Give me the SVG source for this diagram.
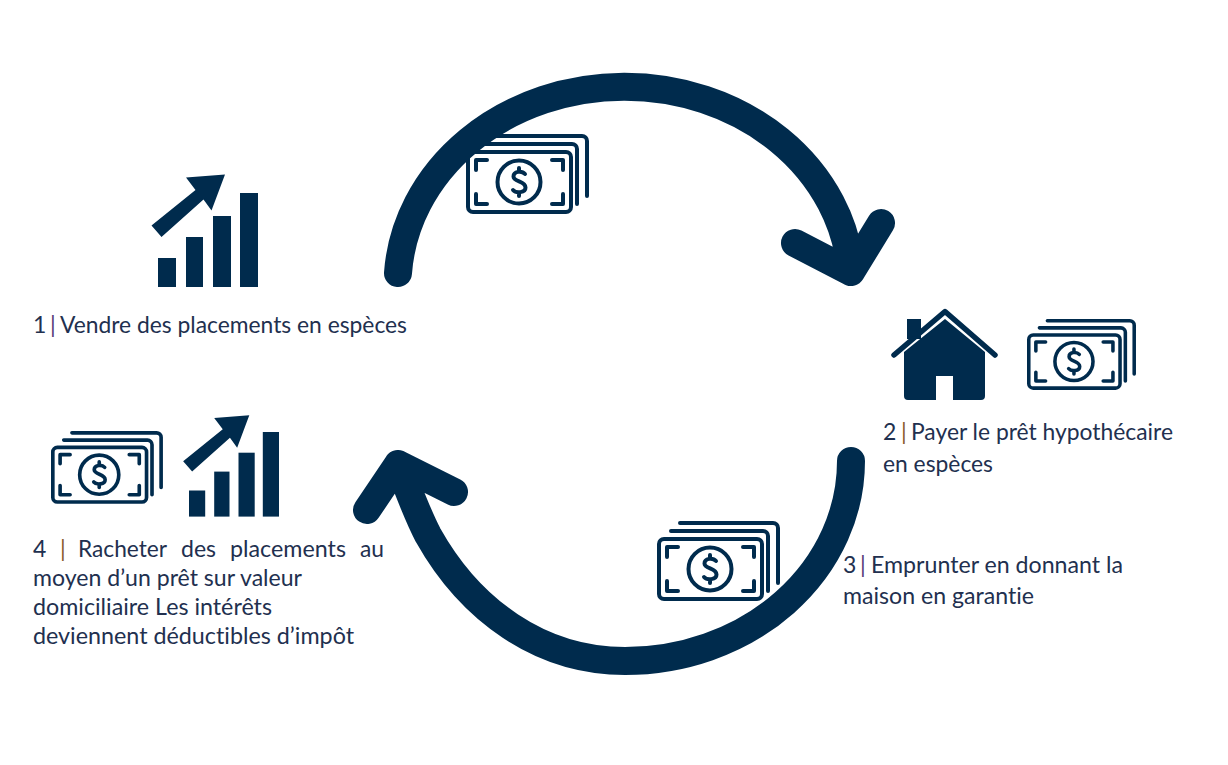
<svg xmlns="http://www.w3.org/2000/svg" width="1228" height="765" viewBox="0 0 1228 765">
<style>
text{font-family:Lato,"Noto Sans",sans-serif;font-size:23px;fill:#22304f;font-variant-ligatures:none}
.sa{fill:#5a3b7a}
.sb{fill:#8a5a2a}
.arc{fill:none;stroke:#002b4d;stroke-width:28;stroke-linecap:round;stroke-linejoin:round}
.ink{fill:#002b4d}
.ln{fill:none;stroke:#002b4d;stroke-width:4;stroke-linecap:round;stroke-linejoin:round}
</style>
<defs>
<g id="money">
<rect x="2" y="18" width="103" height="60" rx="5" class="ln"/>
<path class="ln" d="M14 10H106a5 5 0 0 1 5 5V70M23 2H116a5 5 0 0 1 5 5V62"/>
<path class="ln" d="M10 36V26H21M86 26H97V36M10 60V70H21M86 70H97V60"/>
<circle cx="53" cy="48" r="21.500" class="ln"/>
<path class="ln" d="M59 40C56 36.500 47.500 37 47.500 42.500C47.500 48 59.500 47 59.500 53.500C59.500 59 50 59.500 47 56M53 34V37M53 59V62"/>
</g>
<g id="bars">
<rect x="0" y="65" width="18" height="29"/>
<rect x="28" y="44" width="17" height="50"/>
<rect x="55" y="23" width="18" height="71"/>
<rect x="82" y="0" width="18" height="94"/>
<path d="M-6.500 32.500L37.500 -3L28 -15.500L67 -18.500L53.500 17.500L45.500 6.500L3.500 44Z"/>
</g>
</defs>
<g id="money-top"><use href="#money" x="466" y="134"/></g>
<g id="money-bottom"><use href="#money" x="657" y="521"/></g>
<g id="connectors">
<path class="arc" d="M398 273A227 199 0 0 1 851 272M795 243L851 272L881 223"/>
<path class="arc" d="M851 461A226 200 0 0 1 625 661C540 661 470 610 428 535C416 512 408 488 398 464M454 492L398 464L367 510"/>
</g>
<g id="node-1">
<use href="#bars" class="ink" x="158" y="193"/>
<text x="33" y="333">1</text><text class="sa" x="50" y="333">|</text>
<text x="60" y="333" textLength="347" lengthAdjust="spacingAndGlyphs">Vendre des placements en espèces</text>
</g>
<g id="node-2">
<rect class="ink" x="907" y="319" width="14" height="20"/>
<path fill="none" stroke="#002b4d" stroke-width="5.500" stroke-linecap="round" stroke-linejoin="round" d="M894 355L945 311.500L995 355"/>
<path class="ink" d="M945 319L985 352V396a4 4 0 0 1 -4 4H953V376H936V400H908a4 4 0 0 1 -4 -4V352Z"/>
<use href="#money" transform="translate(1027 319) scale(.886)"/>
<text x="883" y="440">2</text><text class="sb" x="901" y="440">|</text>
<text x="911" y="440" textLength="262" lengthAdjust="spacingAndGlyphs">Payer le prêt hypothécaire</text>
<text x="883" y="472" textLength="110" lengthAdjust="spacingAndGlyphs">en espèces</text>
</g>
<g id="node-3">
<text x="843" y="573">3</text><text class="sa" x="860" y="573">|</text>
<text x="871" y="573" textLength="252" lengthAdjust="spacingAndGlyphs">Emprunter en donnant la</text>
<text x="843" y="604" textLength="191" lengthAdjust="spacingAndGlyphs">maison en garantie</text>
</g>
<g id="node-4">
<use href="#money" transform="translate(51 431) scale(.91)"/>
<use href="#bars" class="ink" transform="translate(189 432) scale(.9 .9)"/>
<text x="33" y="557">4</text><text class="sb" x="60" y="557">|</text>
<text x="78" y="557" textLength="89" lengthAdjust="spacingAndGlyphs">Racheter</text>
<text x="181" y="557" textLength="35" lengthAdjust="spacingAndGlyphs">des</text>
<text x="230" y="557" textLength="116" lengthAdjust="spacingAndGlyphs">placements</text>
<text x="360" y="557" textLength="24" lengthAdjust="spacingAndGlyphs">au</text>
<text x="33" y="586" textLength="269" lengthAdjust="spacingAndGlyphs">moyen d’un prêt sur valeur</text>
<text x="33" y="615" textLength="239" lengthAdjust="spacingAndGlyphs">domiciliaire Les intérêts</text>
<text x="33" y="644" textLength="321" lengthAdjust="spacingAndGlyphs">deviennent déductibles d’impôt</text>
</g>
</svg>
